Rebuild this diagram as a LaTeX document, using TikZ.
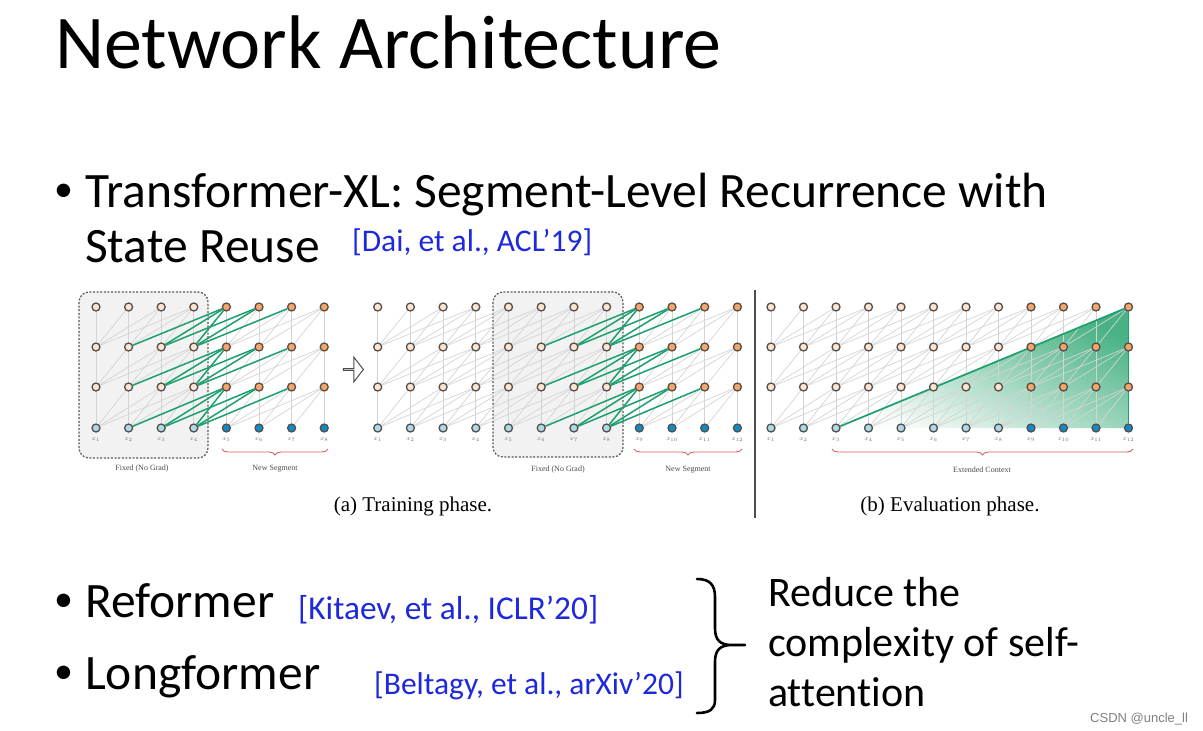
\documentclass[tikz,border=0pt]{standalone}
\usepackage{fontspec}
\setmainfont[Ligatures=NoCommon]{Carlito}
\newfontfamily\capfont{Liberation Serif}
\newfontfamily\wmfont{Liberation Sans}
\usetikzlibrary{decorations.pathreplacing,shapes.arrows}
\definecolor{nodeline}{RGB}{88,78,70}
\definecolor{peach}{RGB}{251,229,212}
\definecolor{orangeN}{RGB}{245,166,108}
\definecolor{lblue}{RGB}{168,219,238}
\definecolor{dblue}{RGB}{10,140,205}
\definecolor{edgegray}{RGB}{212,212,212}
\definecolor{edgegreen}{RGB}{30,160,110}
\definecolor{citeblue}{RGB}{30,40,220}
\definecolor{bracered}{RGB}{222,95,95}
\definecolor{boxfill}{RGB}{242,242,242}
\definecolor{trigreen}{RGB}{72,178,132}
\definecolor{trilight}{RGB}{250,253,251}
\pgfdeclarelayer{bbg}
\pgfdeclarelayer{bg}
\pgfsetlayers{bbg,bg,main}
\newcommand\mkcol[5]{%
  \node[tok,fill=#4] (#1-#2-0) at (#3,428) {};
  \node[tok,fill=#5] (#1-#2-1) at (#3,387) {};
  \node[tok,fill=#5] (#1-#2-2) at (#3,347) {};
  \node[tok,fill=#5] (#1-#2-3) at (#3,307) {};
  \node[xlab] (#1-#2-l) at (#3,440) {$x_{#2}$};
}
\begin{document}
\begin{tikzpicture}[x=1pt,y=-1pt,
  tok/.style={circle,draw=nodeline,line width=1.3pt,minimum size=8pt,inner sep=0pt},
  xlab/.style={inner sep=0pt,text=black!55,font=\fontsize{6}{6}\selectfont},
  gedge/.style={draw=edgegray,line width=0.7pt},
  grn/.style={draw=edgegreen,line width=1.5pt},
  fixbox/.style={draw=black!65,fill=boxfill,rounded corners=10pt,line width=1.2pt,dash pattern=on 2pt off 1.6pt},
  rbrace/.style={draw=bracered,line width=0.9pt,decorate,decoration={brace,amplitude=6pt,mirror}},
  smalllab/.style={inner sep=0pt,text=black!70,font=\fontsize{8}{8}\selectfont\capfont},
  caption/.style={inner sep=0pt,font=\fontsize{21}{24}\selectfont\capfont},
  txt/.style={inner sep=0pt,anchor=base west},
  body/.style={txt,font=\fontsize{49.5}{56}\selectfont},
  bul/.style={txt,font=\fontsize{38}{40}\selectfont},
  cite/.style={txt,text=citeblue,font=\fontsize{31.5}{36}\selectfont},
  side/.style={txt,font=\fontsize{42}{48}\selectfont}]
\useasboundingbox (0,0) rectangle (1203,731);

% ---------- text ----------
\node[txt,font=\fontsize{76}{80}\selectfont] (title) at (55,68) {Network Architecture};
\node[bul] (b1) at (54,201) {\textbullet};
\node[body] (t1) at (85,207) {Transformer-XL: Segment-Level Recurrence with};
\node[body] (t2) at (85,262) {State Reuse};
\node[cite] (c1) at (352,251) {[Dai, et al., ACL’19]};
\node[bul] (b2) at (54,611) {\textbullet};
\node[body] (t3) at (85,617) {Reformer};
\node[cite,font=\fontsize{33.3}{38}\selectfont] (c2) at (298,619) {[Kitaev, et al., ICLR’20]};
\node[bul] (b3) at (54,683) {\textbullet};
\node[body] (t4) at (85,689) {Longformer};
\node[cite] (c3) at (374,694) {[Beltagy, et al., arXiv’20]};
\node[side] (s1) at (768,606) {Reduce the};
\node[side] (s2) at (768,656) {complexity of self-};
\node[side] (s3) at (768,706) {attention};
\node[txt,text=black!50,font=\fontsize{13}{14}\selectfont\wmfont] (wm) at (1090,722) {CSDN @uncle\_ll};

% big brace
\draw[line width=2.6pt,line cap=round]
  (697,579) .. controls (710,579) and (715,585) .. (715,597) -- (715,628)
  .. controls (715,640) and (720,645) .. (732,645) -- (745,645)
  (732,645) .. controls (720,645) and (715,650) .. (715,662) -- (715,700)
  .. controls (715,709) and (710,713) .. (697,713);

% ---------- figure nodes ----------
\foreach \i in {1,...,8}{
  \pgfmathsetmacro\xx{96+32.6*(\i-1)}
  \ifnum\i<5 \mkcol{A}{\i}{\xx}{lblue}{peach}\else\mkcol{A}{\i}{\xx}{dblue}{orangeN}\fi
}
\foreach \i in {1,...,12}{
  \pgfmathsetmacro\xx{377.7+32.7*(\i-1)}
  \ifnum\i<9 \mkcol{B}{\i}{\xx}{lblue}{peach}\else\mkcol{B}{\i}{\xx}{dblue}{orangeN}\fi
}
\foreach \i in {1,...,12}{
  \pgfmathsetmacro\xx{771+32.5*(\i-1)}
  \ifnum\i<9 \mkcol{C}{\i}{\xx}{lblue}{peach}\else\mkcol{C}{\i}{\xx}{dblue}{orangeN}\fi
}

% arrow between the two training diagrams
\node[single arrow,draw=black!70,fill=white,line width=1pt,inner sep=0pt,
  minimum height=20pt,minimum width=25pt,single arrow head extend=6.5pt,
  single arrow tip angle=105] (arr) at (353,369.5) {};

% labels
\node[smalllab] (fx1) at (142,469) {Fixed (No Grad)};
\node[smalllab] (ns1) at (275,469) {New Segment};
\node[smalllab] (fx2) at (558,470) {Fixed (No Grad)};
\node[smalllab] (ns2) at (688,470) {New Segment};
\node[smalllab] (ec) at (982,470) {Extended Context};
\node[caption] (capa) at (413,506) {(a) Training phase.};
\node[caption] (capb) at (950,506) {(b) Evaluation phase.};

\begin{pgfonlayer}{bbg}
  \fill[white] (0,0) rectangle (1203,731);
  \draw[fixbox] (79,292) rectangle (208,458);
  \draw[fixbox] (493,292) rectangle (623,457);
  \shade[shading=axis,top color=trigreen,bottom color=trilight,shading angle=-25]
    (C-3-0.center) -- (C-12-3.center) -- (C-12-0.center) -- cycle;
\end{pgfonlayer}

\begin{pgfonlayer}{bg}
  \foreach \P/\N in {A/8,B/12,C/12}{
    \foreach \i in {1,...,\N}{
      \foreach \r in {1,2,3}{
        \pgfmathtruncatemacro\rr{\r-1}
        \draw[gedge] (\P-\i-\r) -- (\P-\i-\rr);
        \foreach \d in {1,2,3}{
          \pgfmathtruncatemacro\j{\i-\d}
          \ifnum\j>0 \draw[gedge] (\P-\i-\r) -- (\P-\j-\rr);\fi
        }
      }
    }
  }
  \foreach \i/\j in {5/2,5/3,5/4,6/3,6/4,7/4}{
    \foreach \r in {1,2,3}{
      \pgfmathtruncatemacro\rr{\r-1}
      \draw[grn] (A-\i-\r) -- (A-\j-\rr);
    }
  }
  \foreach \i/\j in {9/6,9/7,9/8,10/7,10/8,11/8}{
    \foreach \r in {1,2,3}{
      \pgfmathtruncatemacro\rr{\r-1}
      \draw[grn] (B-\i-\r) -- (B-\j-\rr);
    }
  }
  \draw[grn,line width=1.7pt] (C-3-0) -- (C-12-3);
  \draw[grn,line width=1.7pt] (C-12-3) -- (C-12-0);
\end{pgfonlayer}

% braces and separator
\draw[rbrace] (222,449) -- (328,449);
\draw[rbrace] (634,449) -- (742,449);
\draw[rbrace] (832,449) -- (1133,449);
\draw[black!70,line width=1.2pt] (755,290) -- (755,518);
\end{tikzpicture}
\end{document}
